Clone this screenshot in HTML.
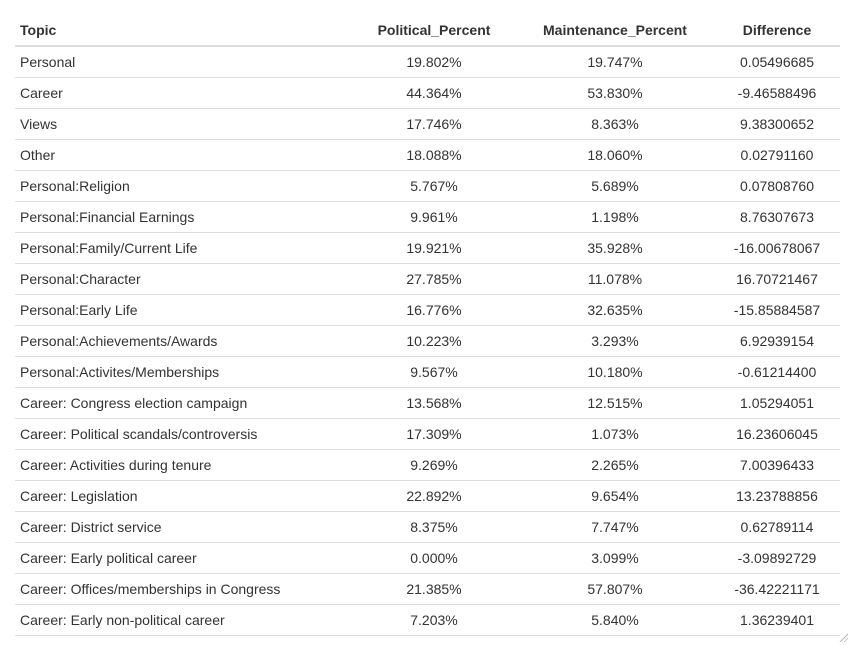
<!DOCTYPE html>
<html><head><meta charset="utf-8"><style>
body{margin:0;background:#fff;width:853px;height:645px;overflow:hidden;font-family:"Liberation Sans",Arial,sans-serif;color:#333;}
table{position:absolute;left:15px;top:15px;border-collapse:collapse;width:825px;table-layout:fixed;font-size:14px;}
th{font-weight:bold;height:30px;border-bottom:2px solid #ddd;padding:0 5px;vertical-align:middle;}
td{height:30px;border-bottom:1px solid #ddd;padding:0 5px;vertical-align:middle;}
.c{text-align:center}.l{text-align:left}
.grip{position:absolute;left:838px;top:632px;width:10px;height:10px;background:
repeating-linear-gradient(135deg,transparent 0 2px,#bbb 2px 3px);clip-path:polygon(100% 0,100% 100%,0 100%);}
</style></head><body>
<table>
<colgroup><col style="width:337px"><col style="width:164px"><col style="width:198px"><col style="width:126px"></colgroup>
<thead><tr>
<th class="l">Topic</th>
<th class="c">Political_Percent</th>
<th class="c">Maintenance_Percent</th>
<th class="c">Difference</th></tr></thead>
<tbody id="tb"></tbody></table>
<div class="grip"></div>
<script>
const topics=["Personal","Career","Views","Other","Personal:Religion","Personal:Financial Earnings","Personal:Family/Current Life","Personal:Character","Personal:Early Life","Personal:Achievements/Awards","Personal:Activites/Memberships","Career: Congress election campaign","Career: Political scandals/controversis","Career: Activities during tenure","Career: Legislation","Career: District service","Career: Early political career","Career: Offices/memberships in Congress","Career: Early non-political career"];
const political=["19.802%","44.364%","17.746%","18.088%","5.767%","9.961%","19.921%","27.785%","16.776%","10.223%","9.567%","13.568%","17.309%","9.269%","22.892%","8.375%","0.000%","21.385%","7.203%"];
const maintenance=["19.747%","53.830%","8.363%","18.060%","5.689%","1.198%","35.928%","11.078%","32.635%","3.293%","10.180%","12.515%","1.073%","2.265%","9.654%","7.747%","3.099%","57.807%","5.840%"];
const diff=["0.05496685","-9.46588496","9.38300652","0.02791160","0.07808760","8.76307673","-16.00678067","16.70721467","-15.85884587","6.92939154","-0.61214400","1.05294051","16.23606045","7.00396433","13.23788856","0.62789114","-3.09892729","-36.42221171","1.36239401"];
const tb=document.getElementById('tb');
topics.forEach((t,i)=>{
 const tr=document.createElement('tr');
 
 
 [[t,'l','topic-cell'],[political[i],'c','political-cell'],[maintenance[i],'c','maintenance-cell'],[diff[i],'c','difference-cell']].forEach(([v,c,n])=>{
  const td=document.createElement('td');td.className=c;td.textContent=v;
  
  
  tr.appendChild(td);
 });
 tb.appendChild(tr);
});
</script>
</body></html>
